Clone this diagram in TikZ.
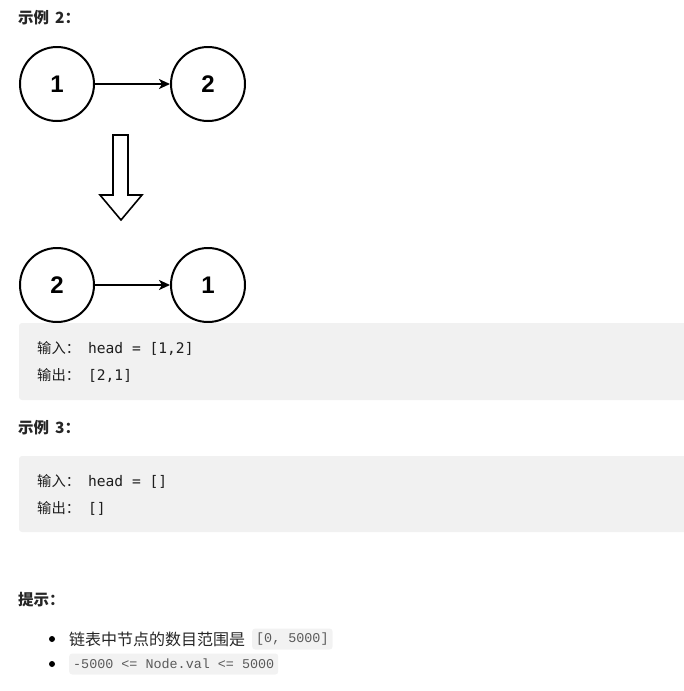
\documentclass[tikz,border=0pt]{standalone}
\usepackage{fontspec}
\setmainfont{Liberation Sans}
\newfontfamily\cjk{Noto Sans CJK SC}
\newfontfamily\codefont{DejaVu Sans Mono}
\newfontfamily\hintmono{Liberation Mono}
\usetikzlibrary{arrows.meta}
\definecolor{codebg}{HTML}{F1F1F1}
\definecolor{inlinebg}{HTML}{F2F2F2}
\definecolor{codetext}{HTML}{1E1E1E}
\definecolor{hintcode}{HTML}{5A5A5A}
\definecolor{bodytext}{HTML}{262626}
\tikzset{
  listnode/.style={circle, draw=black, line width=2pt, minimum size=74pt, inner sep=0pt,
    font=\fontsize{24}{24}\selectfont\bfseries},
  link/.style={line width=1.8pt, -{Stealth[length=11pt,width=10pt,inset=3pt]}},
  heading/.style={anchor=west, inner sep=0pt, text=bodytext, font=\cjk\fontsize{15.5}{15.5}\selectfont\bfseries},
  codeline/.style={anchor=west, inner sep=0pt, text=codetext},
  codebox/.style={fill=codebg, rounded corners=3pt, draw=none},
  inlinecode/.style={fill=inlinebg, rounded corners=3pt, inner xsep=4pt, inner ysep=0pt,
    minimum height=21pt, text=hintcode, anchor=west, font=\hintmono\fontsize{13.4}{13.4}\selectfont},
  bullet/.style={circle, fill=black, inner sep=0pt, minimum size=6pt}
}
\newcommand{\cjkin}{\cjk\fontsize{14.3}{14.3}\selectfont}
\newcommand{\monoin}{\codefont\fontsize{14.6}{14.6}\selectfont}
\newcommand{\gapcode}{\hspace{8pt}}
\begin{document}
\begin{tikzpicture}[x=1pt,y=-1pt]
\useasboundingbox (0,0) rectangle (684,691);

% example 2 heading
\node[heading] (h2) at (18,18) {示例\hspace{6pt}2：};

% list before reversal
\node[listnode] (a1) at (57,84) {1};
\node[listnode] (a2) at (208,84) {2};
\draw[link] (a1) -- (a2);

% hollow block arrow
\draw[line width=1.6pt, line join=miter, fill=white]
  (113,135) -- (128,135) -- (128,195) -- (142,195) -- (121,220)
  -- (100,195) -- (113,195) -- cycle;

% list after reversal
\node[listnode] (b2) at (57,285) {2};
\node[listnode] (b1) at (208,285) {1};
\draw[link] (b2) -- (b1);

% example 2 input/output
\fill[codebox] (19,323) rectangle (690,400);
\node[codeline] (in2) at (37,348) {{\cjkin 输入：}\gapcode{\monoin head = [1,2]}};
\node[codeline] (out2) at (37,375) {{\cjkin 输出：}\gapcode{\monoin [2,1]}};

% example 3
\node[heading] (h3) at (18,428) {示例\hspace{6pt}3：};
\fill[codebox] (19,456) rectangle (690,532);
\node[codeline] (in3) at (37,481) {{\cjkin 输入：}\gapcode{\monoin head = []}};
\node[codeline] (out3) at (37,508) {{\cjkin 输出：}\gapcode{\monoin []}};

% hints
\node[heading] (tip) at (18,600) {提示：};
\node[bullet] (d1) at (52,639) {};
\node[anchor=west, inner sep=0pt, text=bodytext, font=\cjk\fontsize{16}{16}\selectfont]
  (t1) at (69,639) {链表中节点的数目范围是};
\node[inlinecode] (c1) at (252,639) {[0, 5000]};
\node[bullet] (d2) at (52,664) {};
\node[inlinecode] (c2) at (69,664) {-5000 <= Node.val <= 5000};
\end{tikzpicture}
\end{document}
